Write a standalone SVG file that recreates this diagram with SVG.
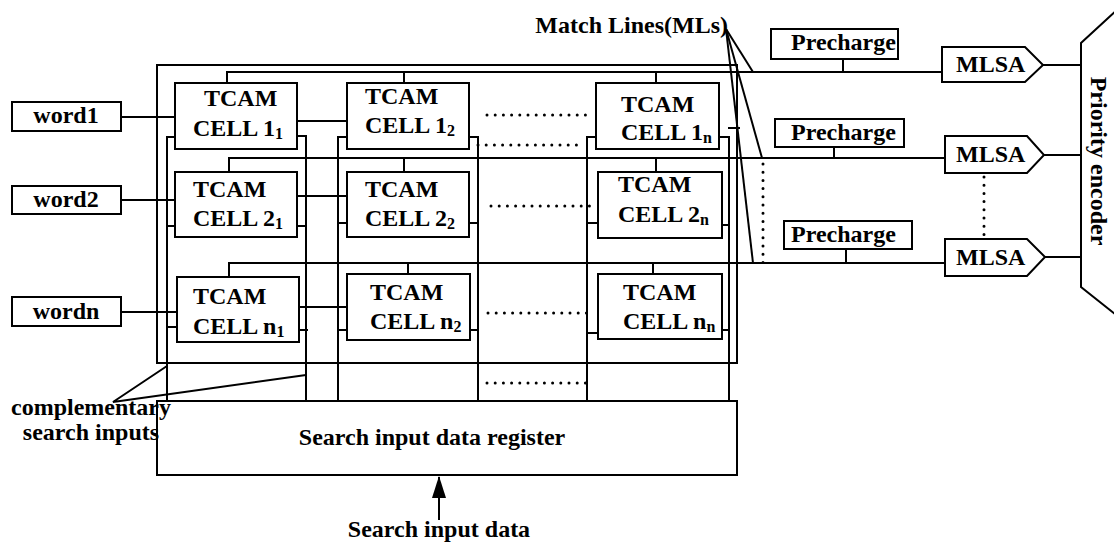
<svg xmlns="http://www.w3.org/2000/svg" width="1114" height="545" viewBox="0 0 1114 545">
<style>
text{font-family:"Liberation Serif","Times New Roman",serif;font-weight:bold;font-size:24px;fill:#000}
.box{fill:#fff;stroke:#000;stroke-width:2}
.ln{fill:none;stroke:#000;stroke-width:2}
.dot{fill:none;stroke:#000;stroke-width:3;stroke-linecap:round;stroke-dasharray:0 8.2}
.sub{font-size:16px}
</style>
<defs>
<marker id="arr" markerWidth="22" markerHeight="14" refX="21" refY="7" orient="auto" markerUnits="userSpaceOnUse" viewBox="0 0 22 14">
<path d="M0,0 L22,7 L0,14 Z" fill="#000"/>
</marker>
</defs>
<rect width="1114" height="545" fill="#fff"/>

<g id="connectors" class="ln">
<!-- outer array frame -->
<rect x="157" y="65" width="580" height="298" class="ln"/>
<!-- match lines -->
<polyline points="227,83 227,72 942,72"/>
<polyline points="229,172 229,158 945,158"/>
<polyline points="229,277 229,263 945,263"/>
<line x1="404" y1="72" x2="404" y2="83"/>
<line x1="656" y1="72" x2="656" y2="83"/>
<line x1="404" y1="158" x2="404" y2="172"/>
<line x1="656" y1="158" x2="656" y2="172"/>
<line x1="408" y1="263" x2="408" y2="274"/>
<line x1="653" y1="263" x2="653" y2="274"/>
<!-- precharge connections -->
<line x1="843" y1="59" x2="843" y2="72"/>
<line x1="834" y1="147" x2="834" y2="158"/>
<line x1="846" y1="249" x2="846" y2="263"/>
<!-- word lines -->
<line x1="121" y1="117" x2="175" y2="117"/>
<line x1="121" y1="200" x2="175" y2="200"/>
<line x1="121" y1="312" x2="177" y2="312"/>
<line x1="297" y1="121" x2="347" y2="121"/>
<line x1="297" y1="196" x2="347" y2="196"/>
<line x1="299" y1="307" x2="350" y2="307"/>
<line x1="728" y1="128" x2="740" y2="128"/>
<!-- search lines column 1 -->
<polyline points="175,137 167,137 167,400"/>
<polyline points="297,136 306,136 306,400"/>
<line x1="167" y1="226" x2="175" y2="226"/>
<line x1="297" y1="226" x2="306" y2="226"/>
<line x1="167" y1="327" x2="177" y2="327"/>
<line x1="299" y1="330" x2="308" y2="330"/>
<!-- search lines column 2 -->
<polyline points="347,137 338,137 338,400"/>
<polyline points="469,137 478,137 478,400"/>
<line x1="338" y1="223" x2="347" y2="223"/>
<line x1="469" y1="223" x2="478" y2="223"/>
<line x1="338" y1="330" x2="347" y2="330"/>
<line x1="470" y1="330" x2="478" y2="330"/>
<!-- search lines column n -->
<polyline points="596,137 587,137 587,400"/>
<polyline points="719,137 729,137 729,400"/>
<line x1="587" y1="223" x2="598" y2="223"/>
<line x1="722" y1="225" x2="729" y2="225"/>
<line x1="587" y1="333" x2="598" y2="333"/>
<line x1="722" y1="330" x2="729" y2="330"/>
<!-- MLSA outputs -->
<line x1="1043" y1="65" x2="1081" y2="65"/>
<line x1="1044" y1="155" x2="1081" y2="155"/>
<line x1="1045" y1="257" x2="1081" y2="257"/>
<!-- Match Lines pointers -->
<line x1="726" y1="29" x2="753" y2="72"/>
<line x1="726" y1="29" x2="762" y2="158"/>
<line x1="726" y1="29" x2="753" y2="263"/>
<!-- complementary search inputs pointers -->
<polyline points="167,366 113,402 306,375"/>
<!-- search input data arrow -->
<line x1="439" y1="520" x2="439" y2="477" marker-end="url(#arr)"/>
<!-- dotted continuation marks -->
<line class="dot" x1="487" y1="115" x2="586" y2="115"/>
<line class="dot" x1="478" y1="145" x2="577" y2="145"/>
<line class="dot" x1="491" y1="206" x2="590" y2="206"/>
<line class="dot" x1="488" y1="313" x2="587" y2="313"/>
<line class="dot" x1="487" y1="383" x2="586" y2="383"/>
<line class="dot" x1="763" y1="164" x2="763" y2="264"/>
<line class="dot" x1="984" y1="177" x2="984" y2="236"/>
</g>

<g id="word1"><rect class="box" x="12" y="102" width="109" height="29"/><text x="66" y="123" text-anchor="middle">word1</text></g>
<g id="word2"><rect class="box" x="12" y="186" width="109" height="28"/><text x="66" y="207" text-anchor="middle">word2</text></g>
<g id="wordn"><rect class="box" x="12" y="297" width="109" height="29"/><text x="66" y="319" text-anchor="middle">wordn</text></g>

<g id="cell11"><rect class="box" x="175" y="83" width="122" height="66"/><text x="204" y="106">TCAM</text><text x="193" y="136">CELL 1<tspan class="sub" dy="3">1</tspan></text></g>
<g id="cell21"><rect class="box" x="175" y="172" width="122" height="65"/><text x="193" y="197">TCAM</text><text x="193" y="226">CELL 2<tspan class="sub" dy="3">1</tspan></text></g>
<g id="celln1"><rect class="box" x="177" y="277" width="122" height="65"/><text x="193" y="304">TCAM</text><text x="193" y="334">CELL n<tspan class="sub" dy="3">1</tspan></text></g>
<g id="cell12"><rect class="box" x="347" y="83" width="122" height="66"/><text x="365" y="104">TCAM</text><text x="365" y="133">CELL 1<tspan class="sub" dy="3">2</tspan></text></g>
<g id="cell22"><rect class="box" x="347" y="172" width="122" height="65"/><text x="365" y="197">TCAM</text><text x="365" y="226">CELL 2<tspan class="sub" dy="3">2</tspan></text></g>
<g id="celln2"><rect class="box" x="347" y="274" width="123" height="66"/><text x="370" y="300">TCAM</text><text x="370" y="329">CELL n<tspan class="sub" dy="3">2</tspan></text></g>
<g id="cell1n"><rect class="box" x="596" y="83" width="123" height="66"/><text x="621" y="112">TCAM</text><text x="621" y="140">CELL 1<tspan class="sub" dy="3">n</tspan></text></g>
<g id="cell2n"><rect class="box" x="598" y="172" width="124" height="66"/><text x="618" y="192">TCAM</text><text x="618" y="222">CELL 2<tspan class="sub" dy="3">n</tspan></text></g>
<g id="cellnn"><rect class="box" x="598" y="274" width="124" height="65"/><text x="623" y="300">TCAM</text><text x="623" y="329">CELL n<tspan class="sub" dy="3">n</tspan></text></g>

<g id="precharge1"><rect class="box" x="771" y="29" width="127" height="30"/><text x="791" y="50">Precharge</text></g>
<g id="precharge2"><rect class="box" x="775" y="119" width="129" height="28"/><text x="791" y="140">Precharge</text></g>
<g id="precharge3"><rect class="box" x="784" y="221" width="128" height="28"/><text x="791" y="242">Precharge</text></g>

<g id="mlsa1"><polygon class="box" points="942,47 1025,47 1043,65 1025,82 942,82"/><text x="956" y="72">MLSA</text></g>
<g id="mlsa2"><polygon class="box" points="945,136 1027,136 1044,155 1027,173 945,173"/><text x="956" y="162">MLSA</text></g>
<g id="mlsa3"><polygon class="box" points="945,239 1027,239 1045,257 1027,276 945,276"/><text x="956" y="265">MLSA</text></g>

<g id="priority-encoder"><polyline class="ln" points="1130,-2 1081,43 1081,287 1130,326"/><text transform="translate(1091,161) rotate(90)" text-anchor="middle">Priority encoder</text></g>

<g id="register"><rect class="box" x="157" y="401" width="580" height="74"/><text x="432" y="445" text-anchor="middle">Search input data register</text></g>

<g id="labels">
<text x="728" y="33" text-anchor="end">Match Lines(MLs)</text>
<text x="91" y="415" text-anchor="middle">complementary</text>
<text x="91" y="440" text-anchor="middle">search inputs</text>
<text x="439" y="537" text-anchor="middle">Search input data</text>
</g>
</svg>
